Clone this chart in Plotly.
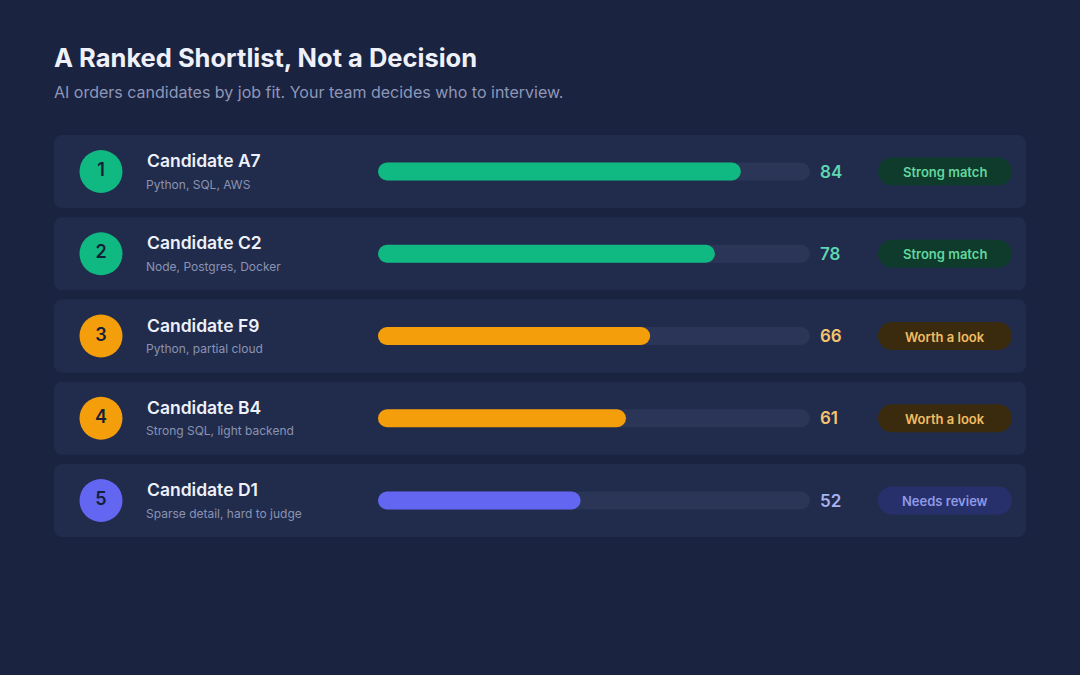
import plotly.graph_objects as go

# ---------------- data ----------------
ranks = [1, 2, 3, 4, 5]
names = ["Candidate A7", "Candidate C2", "Candidate F9", "Candidate B4", "Candidate D1"]
skills = ["Python, SQL, AWS", "Node, Postgres, Docker", "Python, partial cloud",
          "Strong SQL, light backend", "Sparse detail, hard to judge"]
scores = [84, 78, 66, 61, 52]                 # printed fit scores
bar_fill = [84, 78, 63, 57.4, 46.9]           # drawn bar length (% of track)
verdicts = ["Strong match", "Strong match", "Worth a look", "Worth a look", "Needs review"]
title = "A Ranked Shortlist, Not a Decision"
subtitle = "AI orders candidates by job fit. Your team decides who to interview."

# ---------------- styles ----------------
W, H = 1080, 675
BG = "#1a2340"
CARD = "#212c4c"
TRACK = "#2a3558"
FONT = "Inter"
style = {
    "Strong match": dict(bar="#10b981", num="#5ed6b0", pill="#0f3b2c", ptxt="#62d79e"),
    "Worth a look": dict(bar="#f59e0b", num="#f4c36d", pill="#3b2b0e", ptxt="#f0bd62"),
    "Needs review": dict(bar="#6366f1", num="#a9b2f0", pill="#27306b", ptxt="#8e9ae6"),
}
ROW0, ROWSTEP = 171.5, 82.25
centers = [ROW0 + ROWSTEP * i for i in range(len(names))]
n = len(names)

fig = go.Figure()

# cards (axis x: pixel units)
cx0, cx1 = 54, 1026
fig.add_trace(go.Bar(orientation="h", y=centers, x=[cx1 - cx0] * n, base=[cx0] * n, width=73,
                     marker=dict(color=CARD, cornerradius=8, line=dict(width=0)),
                     xaxis="x", yaxis="y", hoverinfo="skip", showlegend=False))

# rank circles
fig.add_trace(go.Scatter(x=[101] * n, y=centers, mode="markers+text",
                         marker=dict(size=43, color=[style[v]["bar"] for v in verdicts], line=dict(width=0)),
                         text=[str(r) for r in ranks], textposition="middle center",
                         textfont=dict(family=FONT, size=18, color="#13203a", weight=600),
                         xaxis="x", yaxis="y", hoverinfo="skip", showlegend=False))

# tracks (axis x2: 0..100)
fig.add_trace(go.Bar(orientation="h", y=centers, x=[100] * n, base=[0] * n, width=18,
                     marker=dict(color=TRACK, cornerradius=9, line=dict(width=0)),
                     xaxis="x2", yaxis="y", hoverinfo="skip", showlegend=False))
# fills
fig.add_trace(go.Bar(orientation="h", y=centers, x=bar_fill, base=[0] * n, width=18,
                     marker=dict(color=[style[v]["bar"] for v in verdicts], cornerradius=9,
                                 line=dict(width=0)),
                     xaxis="x2", yaxis="y", hoverinfo="skip", showlegend=False))

# pills (axis x3: 0..1)
fig.add_trace(go.Bar(orientation="h", y=centers, x=[1] * n, base=[0] * n, width=28,
                     marker=dict(color=[style[v]["pill"] for v in verdicts], cornerradius=14,
                                 line=dict(width=0)),
                     xaxis="x3", yaxis="y", hoverinfo="skip", showlegend=False))

ann = []
ann.append(dict(x=52, y=57, text=title, xanchor="left", yanchor="middle",
                font=dict(family=FONT, size=25.5, color="#eef1fa", weight=700)))
ann.append(dict(x=52, y=92, text=subtitle, xanchor="left", yanchor="middle",
                font=dict(family=FONT, size=16, color="#8e97b8")))
for i, c in enumerate(centers):
    st = style[verdicts[i]]
    ann.append(dict(x=145, y=c - 11, text=names[i], xanchor="left", yanchor="middle",
                    font=dict(family=FONT, size=17.5, color="#eef1fa", weight=600)))
    ann.append(dict(x=144, y=c + 12.5, text=skills[i], xanchor="left", yanchor="middle",
                    font=dict(family=FONT, size=12, color="#8a93b3")))
    ann.append(dict(x=818, y=c, text=str(scores[i]), xanchor="left", yanchor="middle",
                    font=dict(family=FONT, size=17, color=st["num"], weight=600)))
    ann.append(dict(x=945, y=c + 0.5, text=verdicts[i], xanchor="center", yanchor="middle",
                    font=dict(family=FONT, size=13, color=st["ptxt"], weight=600)))
for a in ann:
    a.update(xref="x", yref="y", showarrow=False)

hidden = dict(visible=False, showgrid=False, zeroline=False, fixedrange=True)
fig.update_layout(
    width=W, height=H, margin=dict(l=0, r=0, t=0, b=0),
    paper_bgcolor=BG, plot_bgcolor="rgba(0,0,0,0)",
    barmode="overlay", showlegend=False,
    xaxis=dict(domain=[0, 1], range=[0, W], anchor="y", **hidden),
    xaxis2=dict(domain=[378 / W, 810 / W], range=[0, 100], anchor="y", **hidden),
    xaxis3=dict(domain=[878 / W, 1012 / W], range=[0, 1], anchor="y", **hidden),
    yaxis=dict(domain=[0, 1], range=[H, 0], **hidden),
    annotations=ann,
)
fig.write_html("out.html", config=dict(displayModeBar=False))
